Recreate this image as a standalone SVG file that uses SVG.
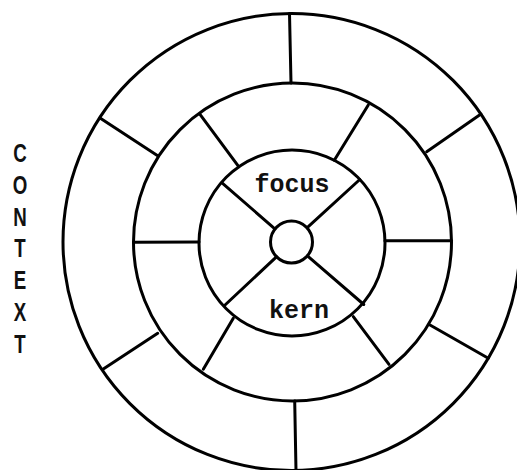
<svg xmlns="http://www.w3.org/2000/svg" width="517" height="470" viewBox="0 0 517 470">
  <style>
    .ring { fill: none; stroke: #000; stroke-width: 3; }
    .spoke { stroke: #000; stroke-width: 3; stroke-linecap: round; }
    .lbl { font-family: "Liberation Mono", "DejaVu Sans Mono", monospace; font-weight: bold; font-size: 25px; fill: #111; text-anchor: middle; }
    .ctx { font-family: "Liberation Sans", "DejaVu Sans", sans-serif; font-weight: bold; font-size: 26px; fill: #111; text-anchor: middle; }
  </style>
  <rect width="517" height="470" fill="#fff"/>
  <g id="outer-ring">
    <circle class="ring" cx="291.5" cy="242" r="228.5"/>
  </g>
  <g id="middle-ring">
    <circle class="ring" cx="292.5" cy="242" r="159"/>
  </g>
  <g id="inner-ring">
    <circle class="ring" cx="292" cy="243" r="93"/>
    <text class="lbl" x="292" y="192">focus</text>
    <text class="lbl" x="299" y="318">kern</text>
  </g>
  <g id="core">
    <circle class="ring" cx="291.5" cy="242" r="21"/>
  </g>
  <g id="connectors">
    <!-- outer ring spokes -->
    <line class="spoke" x1="289.5" y1="13.5" x2="291" y2="83"/>
    <line class="spoke" x1="294.7" y1="401" x2="296" y2="471"/>
    <line class="spoke" x1="100" y1="118" x2="157.7" y2="155.7"/>
    <line class="spoke" x1="481" y1="114" x2="426.7" y2="151.7"/>
    <line class="spoke" x1="103.3" y1="369" x2="157.7" y2="333.3"/>
    <line class="spoke" x1="488.3" y1="358.3" x2="430" y2="325"/>
    <!-- middle ring spokes -->
    <line class="spoke" x1="133.5" y1="242.3" x2="199" y2="242"/>
    <line class="spoke" x1="385" y1="240.7" x2="451.5" y2="240.7"/>
    <line class="spoke" x1="200" y1="114.3" x2="238.7" y2="166.7"/>
    <line class="spoke" x1="368.3" y1="105" x2="334.3" y2="160.3"/>
    <line class="spoke" x1="203.3" y1="369.3" x2="233.3" y2="318.3"/>
    <line class="spoke" x1="389" y1="364.3" x2="353.3" y2="316.7"/>
    <!-- inner spokes -->
    <line class="spoke" x1="222" y1="182.8" x2="274.3" y2="228.3"/>
    <line class="spoke" x1="359.8" y1="179.5" x2="308.3" y2="226.7"/>
    <line class="spoke" x1="224.5" y1="305.5" x2="276.7" y2="256.7"/>
    <line class="spoke" x1="363.8" y1="304.5" x2="308.3" y2="256.7"/>
  </g>
  <g id="context-label" transform="translate(20,0) scale(0.72,1)">
    <text class="ctx" x="0" y="162">C</text>
    <text class="ctx" x="0" y="194">O</text>
    <text class="ctx" x="0" y="226">N</text>
    <text class="ctx" x="0" y="257">T</text>
    <text class="ctx" x="0" y="289">E</text>
    <text class="ctx" x="0" y="321">X</text>
    <text class="ctx" x="0" y="353">T</text>
  </g>
</svg>
